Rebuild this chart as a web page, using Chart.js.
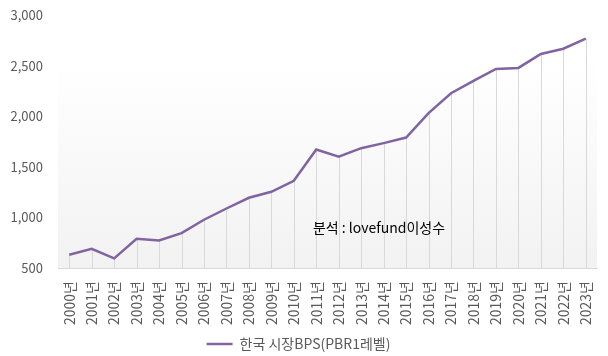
<!DOCTYPE html>
<html>
<head>
<meta charset="utf-8">
<script src="https://cdn.jsdelivr.net/npm/chart.js@4.4.1/dist/chart.umd.min.js"></script>
<style>
  html, body { margin: 0; padding: 0; background: #ffffff; }
  #wrap { width: 608px; height: 356px; position: relative; }
</style>
</head>
<body>
<div id="wrap"><canvas id="c" width="608" height="356"></canvas></div>
<script>
const years = ['2000년','2001년','2002년','2003년','2004년','2005년','2006년','2007년','2008년','2009년','2010년','2011년','2012년','2013년','2014년','2015년','2016년','2017년','2018년','2019년','2020년','2021년','2022년','2023년'];
const bpsValues = [631, 690, 595, 789, 772, 845, 977, 1088, 1194, 1253, 1362, 1671, 1601, 1684, 1734, 1789, 2030, 2227, 2349, 2467, 2477, 2615, 2667, 2766];
const seriesName = '한국 시장BPS(PBR1레벨)';
const noteText = '분석 : lovefund이성수';
const yTicks = [500, 1000, 1500, 2000, 2500, 3000];

const FONT = '"Noto Sans CJK KR", "Noto Sans", sans-serif';

const bgPlugin = {
  id: 'bgPlugin',
  beforeDraw(chart) {
    const { ctx, chartArea: a } = chart;
    const top = a.top + 43;
    const g = ctx.createLinearGradient(0, top, 0, a.bottom);
    g.addColorStop(0, '#ffffff');
    g.addColorStop(1, '#f2f2f2');
    ctx.save();
    ctx.fillStyle = g;
    ctx.fillRect(a.left, top, a.right - a.left, a.bottom - top);
    ctx.restore();
  }
};

const dropLines = {
  id: 'dropLines',
  beforeDatasetsDraw(chart) {
    const { ctx, chartArea: a } = chart;
    const meta = chart.getDatasetMeta(0);
    ctx.save();
    ctx.strokeStyle = '#d9d9d9';
    ctx.lineWidth = 1;
    meta.data.forEach(p => {
      const x = Math.round(p.x) + 0.5;
      ctx.beginPath();
      ctx.moveTo(x, p.y);
      ctx.lineTo(x, a.bottom);
      ctx.stroke();
    });
    ctx.restore();
  }
};

const notePlugin = {
  id: 'notePlugin',
  afterDatasetsDraw(chart) {
    const { ctx } = chart;
    const xs = chart.scales.x, ys = chart.scales.y;
    ctx.save();
    ctx.font = '14px ' + FONT;
    ctx.fillStyle = '#000000';
    ctx.textBaseline = 'middle';
    ctx.textAlign = 'left';
    ctx.fillText(noteText, xs.getPixelForValue(10.85), ys.getPixelForValue(902));
    ctx.restore();
  }
};

new Chart(document.getElementById('c'), {
  type: 'line',
  data: {
    labels: years,
    datasets: [{
      label: seriesName,
      data: bpsValues,
      borderColor: '#8064a2',
      backgroundColor: '#8064a2',
      borderWidth: 2.5,
      pointRadius: 0,
      pointHoverRadius: 0,
      tension: 0,
      fill: false
    }]
  },
  options: {
    responsive: false,
    animation: false,
    devicePixelRatio: 1,
    layout: { padding: { top: 15, right: 11, left: 0, bottom: -5 } },
    plugins: {
      tooltip: { enabled: false },
      legend: {
        position: 'bottom',
        labels: {
          color: '#595959',
          font: { family: FONT, size: 14 },
          usePointStyle: true,
          pointStyle: 'line',
          pointStyleWidth: 26,
          boxHeight: 14,
          padding: 4
        }
      }
    },
    scales: {
      x: {
        type: 'category',
        offset: true,
        grid: { display: false, drawTicks: false },
        border: { display: true, color: '#d9d9d9', width: 1 },
        ticks: {
          color: '#595959',
          font: { family: FONT, size: 14 },
          minRotation: 90,
          maxRotation: 90,
          padding: 13,
          autoSkip: false
        },
        afterFit(s) { s.height = 65; s.paddingLeft = 0; s.paddingRight = 0; }
      },
      y: {
        min: 500,
        max: 3000,
        grid: { display: false, drawTicks: false },
        border: { display: false },
        afterBuildTicks(s) { s.ticks = yTicks.map(v => ({ value: v })); },
        ticks: {
          color: '#595959',
          font: { family: FONT, size: 13 },
          padding: 15,
          callback: v => v.toLocaleString('en-US')
        },
        afterFit(s) { s.width = 58; s.paddingTop = 0; s.paddingBottom = 0; }
      }
    }
  },
  plugins: [bgPlugin, dropLines, notePlugin]
});
</script>
</body>
</html>
